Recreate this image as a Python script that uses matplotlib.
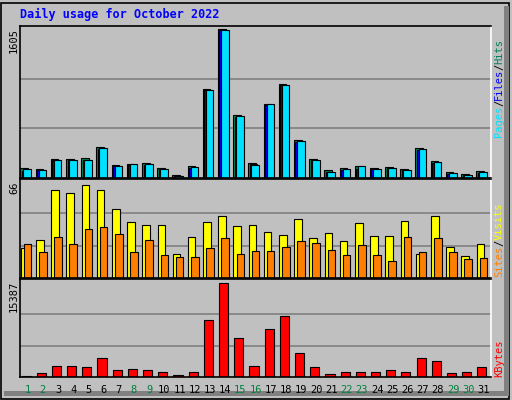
import matplotlib
matplotlib.use("Agg")
import matplotlib.pyplot as plt
from matplotlib.patches import Rectangle
import numpy as np

days = list(range(1, 32))
weekend = [1, 2, 8, 9, 15, 16, 22, 23, 29, 30]
hits = [107, 93, 203, 203, 214, 332, 139, 150, 160, 107, 32, 128, 963, 1605, 674, 160,
        802, 1016, 407, 203, 86, 107, 128, 107, 118, 96, 321, 182, 64, 43, 75]
files = [80, 85, 190, 195, 195, 310, 125, 145, 140, 95, 20, 105, 945, 1590, 660, 150,
         790, 1000, 385, 190, 60, 85, 95, 95, 105, 85, 305, 165, 45, 30, 50]
pages = [98, 88, 196, 196, 196, 318, 132, 150, 150, 100, 22, 118, 950, 1590, 665, 145,
         792, 1003, 395, 192, 70, 92, 125, 98, 112, 90, 310, 170, 55, 35, 60]
visits = [20.6, 26, 60, 57.5, 63, 60, 47, 38, 36, 36, 16, 28, 38, 42, 35.5, 36,
          31, 29, 40, 27, 30.7, 25, 37.6, 28.7, 28.7, 39, 16, 42, 21, 15, 23]
sites = [23, 17.7, 28, 23, 33.5, 35, 30, 17.7, 26, 15.6, 14, 14, 20.4, 27, 16, 18.4,
         18.4, 21, 25, 24, 19, 15.6, 22.5, 15.6, 11.5, 28, 17.7, 27, 17.7, 13, 13.5]
kbytes = [170, 680, 1860, 1860, 1690, 3040, 1180, 1350, 1180, 850, 340, 850, 9300, 15387,
          6430, 1860, 7780, 9980, 3890, 1690, 510, 850, 850, 850, 1180, 850, 3040, 2540,
          680, 850, 1690]
max_hits, max_visits, max_kb = 1605, 66, 15387

W, H = 512, 400
BG = "#C0C0C0"
fig = plt.figure(figsize=(W / 100, H / 100), dpi=100, facecolor=BG)
mono = "DejaVu Sans Mono"

def ax_px(x0, y0, x1, y1):
    return fig.add_axes([x0 / W, 1 - y1 / H, (x1 - x0) / W, (y1 - y0) / H])

# outer frame
fig.add_artist(Rectangle((1 / W, 1 / H), (W - 4) / W, (H - 4) / H, transform=fig.transFigure,
                         fill=False, edgecolor="black", lw=1.2))
fig.add_artist(Rectangle(((W - 8) / W, 4 / H), 5 / W, (H - 10) / H, transform=fig.transFigure,
                         facecolor="#808080", edgecolor="none"))
fig.add_artist(Rectangle((4 / W, 4 / H), (W - 10) / W, 5 / H, transform=fig.transFigure,
                         facecolor="#808080", edgecolor="none"))

x = np.array(days)
panels = [(26, 178), (179, 278), (279, 377)]
axes = [ax_px(20, a, 491, b) for a, b in panels]
for ax in axes:
    ax.set_facecolor(BG)
    ax.set_xlim(0.5, 31.5)
    ax.set_xticks([]); ax.set_yticks([])
    for s in ax.spines.values():
        s.set_color("black"); s.set_linewidth(1.2)
    ax.spines["right"].set_color("white")

a1, a2, a3 = axes
a1.set_ylim(0, max_hits * 1.02)
for g in (max_hits / 3, 2 * max_hits / 3):
    a1.axhline(g, color="#808080", lw=1.2, zorder=0)
a1.bar(x - 0.22, hits, width=0.5, color="#00805C", edgecolor="black", lw=0.8)
a1.bar(x - 0.12, files, width=0.5, color="#0000FF", edgecolor="black", lw=0.8)
a1.bar(x - 0.02, pages, width=0.5, color="#00E0FF", edgecolor="black", lw=0.8)

a2.set_ylim(0, max_visits * 1.02)
for g in (max_visits / 3, 2 * max_visits / 3):
    a2.axhline(g, color="#808080", lw=1.2, zorder=0)
a2.bar(x - 0.2, visits, width=0.5, color="#FFFF00", edgecolor="black", lw=0.8)
a2.bar(x + 0.0, sites, width=0.5, color="#FF8000", edgecolor="black", lw=0.8)

a3.set_ylim(0, max_kb * 1.04)
for g in (max_kb / 3, 2 * max_kb / 3):
    a3.axhline(g, color="#808080", lw=1.2, zorder=0)
a3.bar(x - 0.1, kbytes, width=0.6, color="#FF0000", edgecolor="black", lw=0.8)

# day labels
for d in days:
    xp = 20 + (d - 0.5) / 31 * 471
    fig.text(xp / W, 1 - 390 / H, str(d), ha="center", va="center", fontsize=7.5,
             family=mono, color="#008040" if d in weekend else "black")

fig.text(20 / W, 1 - 14 / H, "Daily usage for October 2022", fontsize=8.5, family=mono,
         weight="bold", color="#0000FF", ha="left", va="center")

for lab, y in (("1605", 28), ("66", 181), ("15387", 281)):
    fig.text(14 / W, 1 - y / H, lab, rotation=90, ha="center", va="top", fontsize=7.5,
             family=mono)

def right_label(parts, ybottom):
    y = ybottom
    for txt, col in parts:
        fig.text(499 / W, 1 - y / H, txt, rotation=90, ha="center", va="bottom",
                 fontsize=7.5, family=mono, color=col)
        y -= 6.1 * len(txt)

right_label([("Pages", "#00E0FF"), ("/", "black"), ("Files", "#0000FF"), ("/", "black"),
             ("Hits", "#00805C")], 137)
right_label([("Sites", "#FF8000"), ("/", "black"), ("Visits", "#FFFF00")], 277)
right_label([("KBytes", "#FF0000")], 377)

fig.savefig("out.png", dpi=100, facecolor=BG)
